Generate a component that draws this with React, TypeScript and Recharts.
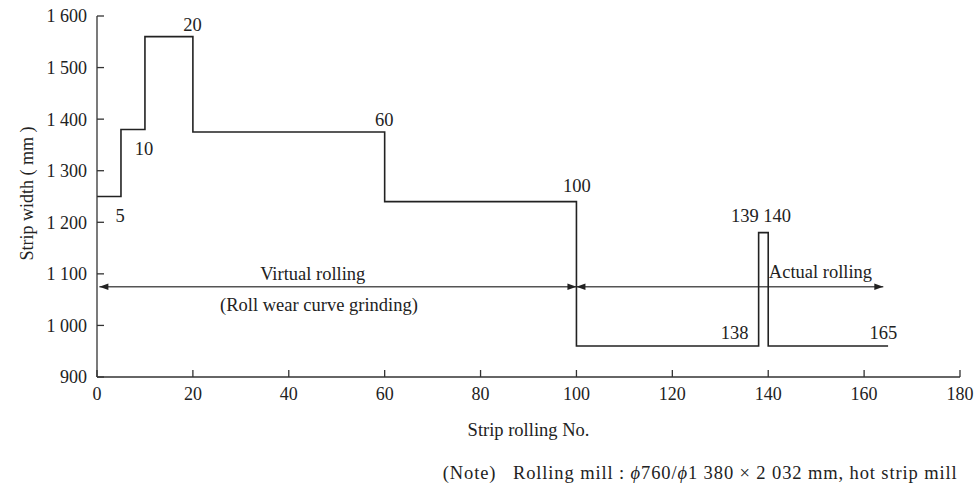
import React from 'react';
import { LineChart, Line, XAxis, YAxis, ReferenceLine, ReferenceDot, Label } from 'recharts';

// Step profile: strip rolling number -> strip width (mm)
const rollingNo = [0, 5, 10, 20, 60, 100, 138, 140, 165];
const stripWidth = [1250, 1380, 1560, 1375, 1240, 960, 1180, 960, 960];

const xTicks = [0, 20, 40, 60, 80, 100, 120, 140, 160, 180];
const yTicks = [900, 1000, 1100, 1200, 1300, 1400, 1500, 1600];

// Annotation texts (data-space centers)
const annoText = ['5', '10', '20', '60', '100', '139 140', '138', '165', 'Virtual rolling', '(Roll wear curve grinding)', 'Actual rolling'];
const annoX = [4.8, 9.8, 19.9, 59.9, 100.1, 138.5, 133, 164, 45.0, 46.3, 150.9];
const annoY = [1214, 1344, 1583, 1400, 1271, 1213, 987, 987, 1101, 1041, 1105];

// Range arrows
const arrowFrom = [0.5, 100];
const arrowTo = [100, 164];
const arrowLevel = 1075;

const data = rollingNo.map((n, i) => ({ n, w: stripWidth[i] }));

const FONT = '"Liberation Serif", "Times New Roman", serif';
const INK = '#222';

const fmtY = (v: number) =>
  v >= 1000 ? `${Math.floor(v / 1000)} ${String(v % 1000).padStart(3, '0')}` : String(v);

const ArrowShape = (p: any) => {
  const { x1, y1, x2, y2 } = p;
  const L = 9;
  const H = 3.2;
  const c = '#555';
  return (
    <g>
      <line x1={x1} y1={y1} x2={x2} y2={y2} stroke={c} strokeWidth={1.6} />
      <polygon points={`${x1},${y1} ${x1 + L},${y1 - H} ${x1 + L},${y1 + H}`} fill={INK} />
      <polygon points={`${x2},${y2} ${x2 - L},${y2 - H} ${x2 - L},${y2 + H}`} fill={INK} />
    </g>
  );
};

const YTitle = (props: any) => {
  const vb = props.viewBox || { x: 0, y: 0, width: 0, height: 0 };
  const cx = vb.x + 25;
  const cy = vb.y + vb.height / 2 - 3;
  return (
    <text x={cx} y={cy} transform={`rotate(-90 ${cx} ${cy})`} textAnchor="middle" fontFamily={FONT} fontSize={18} fill={INK}>
      Strip width ( mm )
    </text>
  );
};

const XTitle = (props: any) => {
  const vb = props.viewBox || { x: 0, y: 0, width: 0, height: 0 };
  return (
    <text x={vb.x + vb.width / 2} y={vb.y + 59.4} textAnchor="middle" fontFamily={FONT} fontSize={18.5} fill={INK}>
      Strip rolling No.
    </text>
  );
};

const NoteText = (props: any) => {
  const vb = props.viewBox || { x: 0, y: 0, width: 0, height: 0 };
  return (
    <text
      x={vb.x + 345.7}
      y={vb.y + 101.7}
      textAnchor="start"
      fontFamily={FONT}
      fontSize={18.5}
      fill={INK}
      textLength={514}
      lengthAdjust="spacing"
    >
      {'(Note)\u00a0\u00a0 Rolling mill : '}
      <tspan fontStyle="italic">ϕ</tspan>
      {'760/'}
      <tspan fontStyle="italic">ϕ</tspan>
      {'1 380 × 2 032 mm, hot strip mill'}
    </text>
  );
};

export default function App() {
  return (
    <div style={{ width: 977, height: 484 }}>
      <style>{'html,body{margin:0;overflow:hidden}.recharts-wrapper{overflow:visible}svg.recharts-surface{overflow:visible}'}</style>
      <LineChart width={977} height={484} data={data} margin={{ top: 16, right: 17, bottom: 77, left: 8 }}>
        <XAxis
          dataKey="n"
          type="number"
          domain={[0, 180]}
          ticks={xTicks}
          height={30}
          tickSize={-7}
          tickMargin={17}
          axisLine={{ stroke: '#333', strokeWidth: 1.3 }}
          tickLine={{ stroke: '#333', strokeWidth: 1.3 }}
          tick={{ fontFamily: FONT, fontSize: 18, fill: INK }}
          interval={0}
        >
          <Label content={XTitle} />
          <Label content={NoteText} />
        </XAxis>
        <YAxis
          type="number"
          domain={[900, 1600]}
          ticks={yTicks}
          width={89}
          tickSize={-7}
          tickMargin={17}
          tickFormatter={fmtY}
          axisLine={{ stroke: '#333', strokeWidth: 1.3 }}
          tickLine={{ stroke: '#333', strokeWidth: 1.3 }}
          tick={{ fontFamily: FONT, fontSize: 18, fill: INK }}
          interval={0}
        >
          <Label content={YTitle} />
        </YAxis>
        {arrowFrom.map((a, i) => (
          <ReferenceLine
            key={`arr${i}`}
            segment={[{ x: a, y: arrowLevel }, { x: arrowTo[i], y: arrowLevel }]}
            shape={ArrowShape}
            ifOverflow="visible"
          />
        ))}
        <Line
          type="stepAfter"
          dataKey="w"
          stroke={INK}
          strokeWidth={1.6}
          dot={false}
          activeDot={false}
          isAnimationActive={false}
        />
        {annoText.map((t, i) => (
          <ReferenceDot
            key={`t${i}`}
            x={annoX[i]}
            y={annoY[i]}
            r={0}
            fill="none"
            stroke="none"
            ifOverflow="visible"
            label={{ value: t, position: 'center', fontFamily: FONT, fontSize: 18.5, fill: INK }}
          />
        ))}
      </LineChart>
    </div>
  );
}
